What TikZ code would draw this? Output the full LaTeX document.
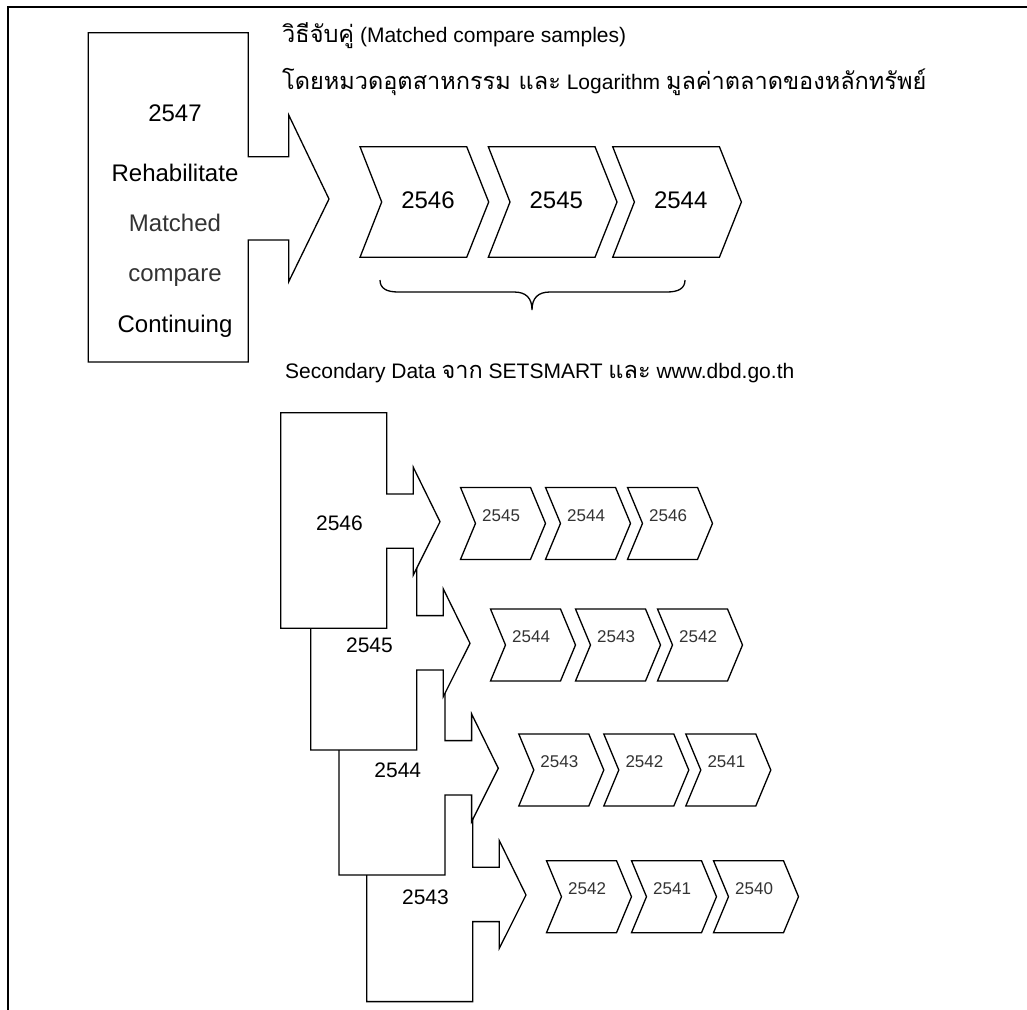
\documentclass[tikz,border=0pt]{standalone}
\usepackage{fontspec}
\setmainfont{Liberation Sans}
\newfontfamily\thaifont[Script=Thai,Scale=1.12]{Loma}
\usepackage{tikz}
\usetikzlibrary{positioning}
\definecolor{inkgrey}{HTML}{333333}
\tikzset{
  outline/.style={draw=black,line width=1.3pt,line join=miter,fill=white},
  frameline/.style={draw=black,line width=2.3pt},
  bracepath/.style={draw=black,line width=1.3pt},
  mainyear/.style={font=\fontsize{24}{28}\selectfont,inner sep=0pt},
  sectyear/.style={font=\fontsize{21}{24}\selectfont,inner sep=0pt},
  chevyear/.style={inkgrey,font=\fontsize{17}{20}\selectfont,inner sep=0pt},
  notetext/.style={font=\fontsize{21}{24}\selectfont,inner sep=0pt,anchor=base west}
}
% one year: a box with an arrow out of its right side (tip at #2,#3)
\newcommand{\yearblock}[4]{%
  \begin{scope}[shift={(#2,#3)}]
    \draw[outline] (-159.3,-109) -- (-53.3,-109) -- (-53.3,-27.7) -- (-26.7,-27.7)
      -- (-26.7,-54.4) -- (0,0) -- (-26.7,53.3) -- (-26.7,26.6) -- (-53.3,26.6)
      -- (-53.3,106.6) -- (-159.3,106.6) -- cycle;
    \node[sectyear] (#1) at (-100.5,2) {#4};
  \end{scope}}
% large chevron of the top row, left edge at #2
\newcommand{\bigchev}[3]{%
  \begin{scope}[shift={(#2,202)}]
    \draw[outline] (0,-55.3) -- (106.7,-55.3) -- (128.7,0) -- (106.7,55.3)
      -- (0,55.3) -- (21.7,0) -- cycle;
    \node[mainyear] (#1) at (68,-2) {#3};
  \end{scope}}
% small chevron, left edge at #2, centre line at #3
\newcommand{\smallchev}[4]{%
  \begin{scope}[shift={(#2,#3)}]
    \draw[outline] (0,-36) -- (70,-36) -- (85,0) -- (70,36) -- (0,36)
      -- (15,0) -- cycle;
    \node[chevyear] (#1) at (40.6,-8) {#4};
  \end{scope}}

\begin{document}
\begin{tikzpicture}[x=1pt,y=-1pt]
  \useasboundingbox (0,0) rectangle (1027,1009);
  \draw[frameline] (8.3,1012) -- (8.3,7.3) -- (1030,7.3);

  % top: 2547 block and its three matched years
  \draw[outline] (88.3,32.7) -- (248.3,32.7) -- (248.3,156.7) -- (288.7,156.7)
    -- (288.7,115) -- (329,199) -- (288.7,281.7) -- (288.7,240) -- (248.3,240)
    -- (248.3,362) -- (88.3,362) -- cycle;
  \node[mainyear,anchor=base] (top) at (175,121.7) {2547};
  \node[mainyear,anchor=base] (rehab) at (175,181.7) {Rehabilitate};
  \node[mainyear,inkgrey,anchor=base] (matched) at (175,231.7) {Matched};
  \node[mainyear,inkgrey,anchor=base] (compare) at (175,281.7) {compare};
  \node[mainyear,anchor=base] (cont) at (175,332.7) {Continuing};

  \bigchev{m1}{360}{2546}
  \bigchev{m2}{488.3}{2545}
  \bigchev{m3}{612.7}{2544}
  \draw[bracepath] (380,280) .. controls (380,288) and (386,292) .. (398,292)
    -- (514,292) .. controls (526,292) and (532,298) .. (532,310)
    .. controls (532,298) and (538,292) .. (550,292) -- (667,292)
    .. controls (679,292) and (685,288) .. (685,280);

  \node[notetext] (method) at (282,42)
    {{\thaifont วิธีจับคู่} (Matched compare samples)};
  \node[notetext] (criteria) at (282,89)
    {{\thaifont โดยหมวดอุตสาหกรรม และ} Logarithm {\thaifont มูลค่าตลาดของหลักทรัพย์}};
  \node[notetext] (source) at (285,378)
    {Secondary Data {\thaifont จาก} SETSMART {\thaifont และ} www.dbd.go.th};

  % bottom: one block per year, the later ones drawn first (they sit behind)
  \yearblock{b43}{526}{895}{2543}
  \yearblock{b44}{498.3}{768.3}{2544}
  \yearblock{b45}{470}{643.3}{2545}
  \yearblock{b46}{440}{521.7}{2546}

  \smallchev{c461}{460.5}{523.4}{2545}
  \smallchev{c462}{545.5}{523.4}{2544}
  \smallchev{c463}{627.5}{523.4}{2546}
  \smallchev{c451}{490.5}{645}{2544}
  \smallchev{c452}{575.5}{645}{2543}
  \smallchev{c453}{657.5}{645}{2542}
  \smallchev{c441}{518.8}{770}{2543}
  \smallchev{c442}{603.8}{770}{2542}
  \smallchev{c443}{685.8}{770}{2541}
  \smallchev{c431}{546.5}{896.7}{2542}
  \smallchev{c432}{631.5}{896.7}{2541}
  \smallchev{c433}{713.5}{896.7}{2540}
\end{tikzpicture}
\end{document}
